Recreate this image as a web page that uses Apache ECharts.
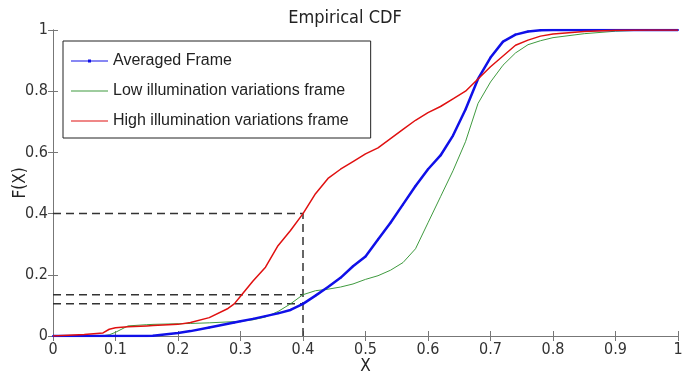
<!DOCTYPE html>
<html><head><meta charset="utf-8">
<script src="https://cdn.jsdelivr.net/npm/echarts@6/dist/echarts.min.js"></script>
<style>html,body{margin:0;padding:0;background:#fff}#c{width:690px;height:375px}</style>
</head><body><div id="c"></div>
<script>
var xs = [0,0.05,0.08,0.09,0.1,0.12,0.15,0.16,0.2,0.22,0.25,0.28,0.29,0.3,0.32,0.34,0.36,0.38,0.4,0.42,0.44,0.46,0.48,0.5,0.52,0.54,0.56,0.58,0.6,0.62,0.64,0.66,0.68,0.7,0.72,0.74,0.76,0.78,0.8,0.85,0.9,0.95,1];
var averaged = [0,0,0,0,0,0,0,0.001,0.01,0.016,0.028,0.04,0.044,0.048,0.056,0.065,0.074,0.085,0.105,0.132,0.16,0.19,0.228,0.26,0.315,0.37,0.43,0.49,0.545,0.59,0.655,0.74,0.84,0.91,0.962,0.985,0.995,0.999,1,1,1,1,1];
var lowIllum = [0,0,0.001,0.004,0.012,0.033,0.037,0.038,0.04,0.041,0.043,0.046,0.047,0.048,0.053,0.062,0.08,0.105,0.135,0.148,0.153,0.16,0.17,0.185,0.197,0.215,0.24,0.285,0.37,0.455,0.54,0.635,0.76,0.83,0.885,0.925,0.952,0.965,0.975,0.988,0.996,1,1];
var highIllum = [0,0.005,0.01,0.022,0.027,0.03,0.033,0.034,0.038,0.044,0.06,0.09,0.105,0.13,0.18,0.225,0.295,0.345,0.4,0.465,0.515,0.545,0.57,0.595,0.615,0.645,0.675,0.705,0.73,0.75,0.775,0.8,0.84,0.88,0.915,0.95,0.967,0.98,0.987,0.995,0.999,1,1];
var seriesNames = ['Averaged Frame','Low illumination variations frame','High illumination variations frame'];
var markX = 0.4;
var markY = [0.4, 0.135, 0.105];

function pairs(ys){ return xs.map(function(x,i){ return [x, ys[i]]; }); }

var narrow = "'DejaVu Sans Condensed','Liberation Sans Narrow',sans-serif";
var axisCol = '#777';
// legend icons: thin line (with tiny bbox anchors so aspect stays 37x14)
var lineIcon = 'path://M0,0L0.01,0L0,0.01Z M37,14L36.99,14L37,13.99Z M0,6.5L37,6.5L37,7.5L0,7.5Z';
var dotLineIcon = lineIcon + ' M17,5.5L20,5.5L20,8.5L17,8.5Z';

var dashed = [];
markY.forEach(function(y){
  dashed.push({type:'line', data:[[0,y],[markX,y]], symbol:'none', silent:true,
    lineStyle:{color:'#333', width:1.5, type:[8,5]}, z:1});
});
dashed.push({type:'line', data:[[markX,0],[markX,markY[0]]], symbol:'none', silent:true,
  lineStyle:{color:'#333', width:1.5, type:[8,5]}, z:1});

var chart = echarts.init(document.getElementById('c'));
chart.setOption({
  animation:false,
  backgroundColor:'#fff',
  title:{text:'Empirical CDF', left:'center', top:4, textStyle:{fontFamily:narrow, fontSize:18, fontWeight:'normal', color:'#222'}},
  grid:{left:53, right:12, top:30, bottom:39, outerBoundsMode:'none', containLabel:false},
  legend:{orient:'vertical', left:63, top:41,
    data:[{name:seriesNames[0], icon:dotLineIcon},{name:seriesNames[1], icon:lineIcon},{name:seriesNames[2], icon:lineIcon}],
    itemWidth:37, itemHeight:14, itemGap:14,
    padding:[12,22,9,8], borderColor:'#222', borderWidth:1, backgroundColor:'#fff',
    textStyle:{fontFamily:"'Liberation Sans',Arial,sans-serif", fontSize:16, color:'#222'}},
  xAxis:[{type:'value', min:0, max:1, interval:0.1, position:'bottom',
    name:'X', nameLocation:'middle', nameGap:22, nameMoveOverlap:false, nameTextStyle:{fontFamily:narrow, fontSize:17, color:'#222'},
    axisLine:{lineStyle:{color:axisCol}}, axisTick:{inside:true, length:5, lineStyle:{color:axisCol}},
    axisLabel:{fontFamily:narrow, fontSize:16, color:'#333', margin:6}, splitLine:{show:false}},
    {type:'value', min:0, max:1, interval:0.1, position:'top',
    axisLine:{lineStyle:{color:axisCol}}, axisTick:{inside:true, length:5, lineStyle:{color:axisCol}},
    axisLabel:{show:false}, splitLine:{show:false}}],
  yAxis:[{type:'value', min:0, max:1, interval:0.2, position:'left',
    name:'F(X)', nameLocation:'middle', nameGap:24, nameMoveOverlap:false, nameTextStyle:{fontFamily:narrow, fontSize:17, color:'#222'},
    axisLine:{show:true, lineStyle:{color:axisCol}}, axisTick:{show:true, inside:true, length:5, lineStyle:{color:axisCol}},
    axisLabel:{fontFamily:narrow, fontSize:16, color:'#333', margin:5}, splitLine:{show:false}},
    {type:'value', min:0, max:1, interval:0.2, position:'right',
    axisLine:{show:true, lineStyle:{color:axisCol}}, axisTick:{show:true, inside:true, length:5, lineStyle:{color:axisCol}},
    axisLabel:{show:false}, splitLine:{show:false}}],
  series: dashed.concat([
    {name:seriesNames[1], type:'line', data:pairs(lowIllum), symbol:'none', color:'#3f9a3f', lineStyle:{width:1, color:'#3f9a3f'}, z:3},
    {name:seriesNames[0], type:'line', data:pairs(averaged), symbol:'circle', symbolSize:2, showSymbol:true, color:'#1010e8', itemStyle:{color:'#1010e8'}, lineStyle:{width:2.5, color:'#1010e8'}, z:4},
    {name:seriesNames[2], type:'line', data:pairs(highIllum), symbol:'none', color:'#e01010', lineStyle:{width:1.5, color:'#e01010'}, z:5}
  ])
});
</script></body></html>
